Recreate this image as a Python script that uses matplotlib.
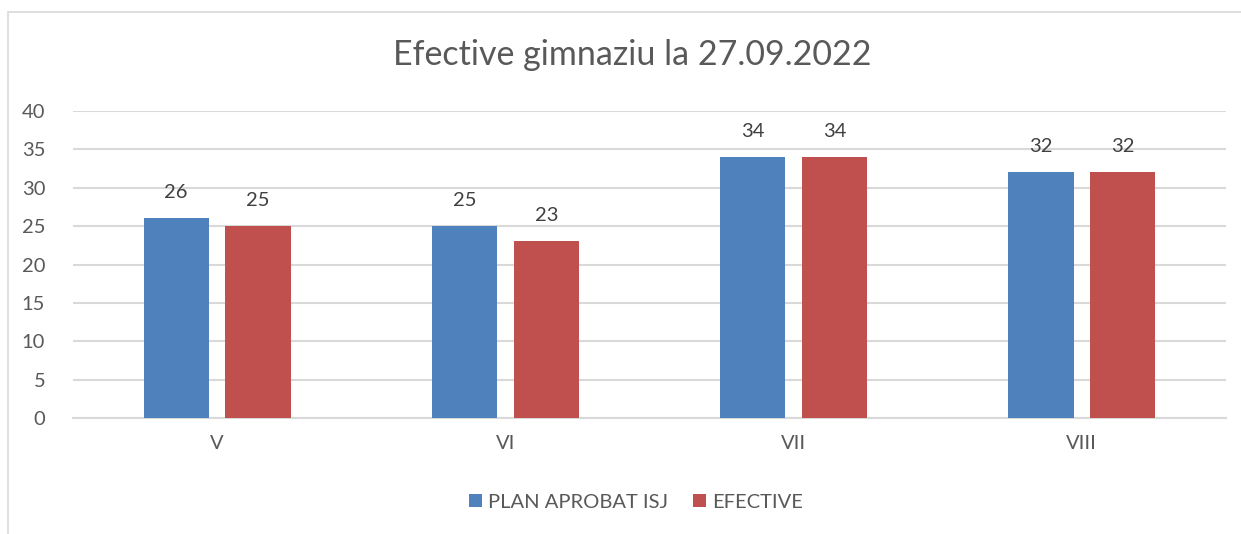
import matplotlib.pyplot as plt
import numpy as np
from matplotlib.patches import Rectangle

# data
categories = ["V", "VI", "VII", "VIII"]
plan_aprobat = [26, 25, 34, 32]
efective = [25, 23, 34, 32]
series_names = ["PLAN APROBAT ISJ", "EFECTIVE"]

BLUE = "#4F81BD"
RED = "#C0504D"
TEXT = "#595959"
GRID = "#D9D9D9"

plt.rcParams["font.family"] = ["Lato", "DejaVu Sans"]

fig = plt.figure(figsize=(12.41, 5.34), dpi=100)
# light chart border, cut at right and bottom like the screenshot
fig.patches.append(Rectangle((8 / 1241, -0.05), 1.1, (534 - 12) / 534 + 0.05,
                             transform=fig.transFigure, fill=False,
                             edgecolor=GRID, linewidth=1.2))

ax = fig.add_axes([73 / 1241, (534 - 418) / 534, (1226 - 73) / 1241, (418 - 111) / 534])

x = np.arange(len(categories))
width = 0.226
offset = 0.142
b1 = ax.bar(x - offset, plan_aprobat, width, color=BLUE, label=series_names[0], zorder=3)
b2 = ax.bar(x + offset, efective, width, color=RED, label=series_names[1], zorder=3)

for bars in (b1, b2):
    for rect in bars:
        ax.annotate(f"{int(rect.get_height())}",
                    (rect.get_x() + rect.get_width() / 2, rect.get_height()),
                    xytext=(0, 18.5), textcoords="offset points",
                    ha="center", va="center", fontsize=14.5, color="#404040")

ax.set_xlim(-0.5, len(categories) - 0.5)
ax.set_ylim(0, 40)
ax.set_yticks(range(0, 41, 5))
ax.set_xticks(x)
ax.set_xticklabels(categories)
ax.yaxis.grid(True, color=GRID, linewidth=1.5, zorder=0)
ax.tick_params(axis="both", length=0, labelsize=14.5, labelcolor=TEXT)
ax.tick_params(axis="y", pad=20)
ax.tick_params(axis="x", pad=12)
for side in ("top", "right", "left"):
    ax.spines[side].set_visible(False)
ax.spines["bottom"].set_color(GRID)
ax.spines["bottom"].set_linewidth(1.5)

fig.text(632 / 1241, 1 - 55 / 534, "Efective gimnaziu la 27.09.2022",
         ha="center", va="center", fontsize=24.5, color=TEXT)

fig.legend(handles=[b1, b2], loc="center", bbox_to_anchor=(636 / 1241, 1 - 502 / 534),
           ncol=2, frameon=False, fontsize=14.5, labelcolor=TEXT,
           handlelength=0.65, handleheight=0.65, handletextpad=0.3, columnspacing=1.2)

fig.savefig("out.png", dpi=100, facecolor="white")
